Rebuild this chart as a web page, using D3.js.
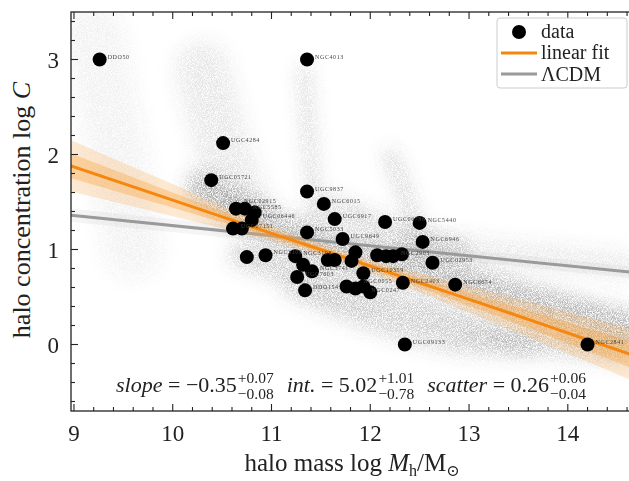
<!DOCTYPE html>
<html>
<head>
<meta charset="utf-8">
<script src="https://cdn.jsdelivr.net/npm/d3@7"></script>
<style>
  body { margin: 0; background: white; }
  text { font-family: "Liberation Serif", "DejaVu Serif", serif; }
</style>
</head>
<body>
<div id="chart"></div>
<script>
// galaxies: name, halo mass log Mh, concentration log C
var names = ['DDO50','NGC4013','UGC4284','UGC05721','UGC9837','NGC6015','UGC6917','NGC5033','UGC9649',
  'NGC02915','NGC5585','UGC06446','','UGC07151','','','NGC3109','NGC3198','','NGC3741','UGC7603','DDO154',
  '','','','','','NGC0055','NGC0247','','UGC10359','UGC06786','NGC5440','NGC6946','','','NGC2903','',
  'UGC02953','NGC2403','NGC6674','UGC09133','NGC2841'];
var logM = [9.26,11.36,10.51,10.39,11.36,11.53,11.64,11.36,11.72,
  10.64,10.73,10.83,10.80,10.61,10.70,10.75,10.94,11.24,11.32,11.41,11.26,11.34,
  11.57,11.64,11.85,11.81,11.76,11.85,11.93,12.00,11.93,12.15,12.50,12.53,12.07,12.16,12.23,12.32,
  12.63,12.33,12.86,12.35,14.20];
var logC = [3.00,3.00,2.12,1.73,1.61,1.48,1.32,1.18,1.11,
  1.43,1.43,1.39,1.31,1.22,1.22,0.92,0.94,0.93,0.84,0.77,0.71,0.57,
  0.89,0.89,0.97,0.88,0.61,0.59,0.61,0.55,0.75,1.29,1.28,1.08,0.94,0.93,0.93,0.95,
  0.86,0.65,0.63,0.00,0.00];

// linear fit and its credible bands
var bandX   = [8.97, 10.0, 11.0, 11.7, 12.5, 13.5, 14.65];
var fitY    = [1.88, 1.52, 1.17, 0.93, 0.65, 0.30, -0.11];
var band1   = [0.13, 0.08, 0.04, 0.03, 0.05, 0.09, 0.14];
var band2   = [0.27, 0.17, 0.08, 0.06, 0.10, 0.18, 0.27];

// LCDM relation
var lcdmX = [8.97, 14.65];
var lcdmY = [1.36, 0.76];
var lcdmW = [0.07, 0.06];

// posterior sample clouds: polyline of [logM, logC], width in px, opacity
var clouds = [
  {pts: [[9.2,3.3],[9.4,2.2],[9.6,1.0]], w: 60, a: 0.08},
  {pts: [[10.3,2.9],[10.5,2.1],[10.7,1.5]], w: 55, a: 0.14},
  {pts: [[11.33,2.9],[11.38,2.2],[11.45,1.3]], w: 10, a: 0.32},
  {pts: [[12.2,2.0],[12.35,1.6],[12.5,1.1]], w: 12, a: 0.32},
  {pts: [[10.3,1.65],[10.9,1.30],[11.6,1.0],[12.5,0.78],[13.5,0.48],[14.6,0.18]], w: 34, a: 0.42},
  {pts: [[10.7,0.95],[11.6,0.62],[12.6,0.32],[13.6,0.06],[14.6,-0.06]], w: 26, a: 0.30},
  {pts: [[11.2,0.60],[12.0,0.25],[12.8,0.02],[13.6,-0.03]], w: 18, a: 0.27},
  {pts: [[12.4,1.05],[13.4,0.95],[14.6,0.82]], w: 28, a: 0.13},
  {pts: [[11.6,1.45],[12.2,1.2],[12.9,1.0]], w: 24, a: 0.24}
];

var xTicks = [9, 10, 11, 12, 13, 14];
var yTicks = [0, 1, 2, 3];

var W = 629, H = 481;
var x = d3.scaleLinear().domain([8.97, 14.65]).range([71, 632]);
var y = d3.scaleLinear().domain([-0.7, 3.5]).range([411, 12]);

var svg = d3.select('#chart').append('svg')
  .attr('width', W).attr('height', H)
  .style('background-color', 'white');

var defs = svg.append('defs');
defs.append('clipPath').attr('id', 'clip')
  .append('rect').attr('x', 71).attr('y', 12).attr('width', 561).attr('height', 399);

// speckled blur for the sample clouds
var f = defs.append('filter').attr('id', 'grain')
  .attr('x', '-50%').attr('y', '-50%').attr('width', '200%').attr('height', '200%');
f.append('feGaussianBlur').attr('in', 'SourceGraphic').attr('stdDeviation', 9).attr('result', 'blur');
f.append('feTurbulence').attr('type', 'fractalNoise').attr('baseFrequency', 1.2)
  .attr('numOctaves', 1).attr('seed', 3).attr('result', 'noise');
f.append('feColorMatrix').attr('in', 'noise').attr('type', 'matrix')
  .attr('values', '0 0 0 0 0  0 0 0 0 0  0 0 0 0 0  3 0 0 0 -0.9').attr('result', 'mask');
f.append('feComposite').attr('in', 'blur').attr('in2', 'mask').attr('operator', 'in');

var plot = svg.append('g').attr('clip-path', 'url(#clip)');

var line = d3.line().x(function(d){ return x(d[0]); }).y(function(d){ return y(d[1]); })
  .curve(d3.curveCatmullRom);

var cloudG = plot.append('g').attr('filter', 'url(#grain)');
clouds.forEach(function(c){
  cloudG.append('path')
    .attr('d', line(c.pts))
    .attr('fill', 'none')
    .attr('stroke', '#444')
    .attr('stroke-width', c.w)
    .attr('stroke-linecap', 'round')
    .attr('opacity', c.a);
});

// LCDM band + line
var lc = lcdmX.map(function(v, i){ return {x: v, y: lcdmY[i], w: lcdmW[i]}; });
plot.append('path')
  .attr('d', d3.area().x(function(d){ return x(d.x); })
    .y0(function(d){ return y(d.y - d.w); }).y1(function(d){ return y(d.y + d.w); })(lc))
  .attr('fill', '#aaa').attr('opacity', 0.12);
plot.append('path')
  .attr('d', d3.line().x(function(d){ return x(d.x); }).y(function(d){ return y(d.y); })(lc))
  .attr('stroke', '#9a9a9a').attr('stroke-width', 3).attr('fill', 'none');

// fit bands + line
var fb = bandX.map(function(v, i){ return {x: v, y: fitY[i], a: band1[i], b: band2[i]}; });
var area = function(key){
  return d3.area().curve(d3.curveMonotoneX).x(function(d){ return x(d.x); })
    .y0(function(d){ return y(d.y - d[key]); }).y1(function(d){ return y(d.y + d[key]); });
};
plot.append('path').attr('d', area('b')(fb)).attr('fill', '#fbb35c').attr('opacity', 0.28);
plot.append('path').attr('d', area('a')(fb)).attr('fill', '#f99a2a').attr('opacity', 0.32);
plot.append('path')
  .attr('d', d3.line().curve(d3.curveMonotoneX).x(function(d){ return x(d.x); }).y(function(d){ return y(d.y); })(fb))
  .attr('stroke', '#f5870f').attr('stroke-width', 3).attr('fill', 'none');

// data points
var gal = names.map(function(n, i){ return {name: n, m: logM[i], c: logC[i]}; });
plot.selectAll('.pt').data(gal).enter().append('circle')
  .attr('class', 'pt')
  .attr('cx', function(d){ return x(d.m); })
  .attr('cy', function(d){ return y(d.c); })
  .attr('r', 7)
  .attr('fill', 'black');

// small nudges so the crowded labels do not sit on top of each other
var nudge = {NGC02915: -5, NGC5585: 1, UGC06446: 7, NGC0055: -4, NGC0247: 6, NGC2403: 1};
plot.selectAll('.lab').data(gal.filter(function(d){ return d.name; })).enter().append('text')
  .attr('class', 'lab')
  .attr('x', function(d){ return x(d.m) + 8; })
  .attr('y', function(d){ return y(d.c) - 1 + (nudge[d.name] || 0); })
  .attr('font-size', 6)
  .attr('letter-spacing', 0.6)
  .attr('fill', '#444')
  .text(function(d){ return d.name; });

// axes frame and ticks (inward)
var frame = svg.append('g');
frame.append('rect').attr('x', 71).attr('y', 12).attr('width', 561).attr('height', 399)
  .attr('fill', 'none').attr('stroke', '#222').attr('stroke-width', 1.3);

var xMinor = d3.range(9, 14.7, 0.2);
var yMinor = d3.range(-0.6, 3.5, 0.2);
xMinor.forEach(function(v){
  var major = Math.abs(v - Math.round(v)) < 1e-6;
  var len = major ? 7 : 4;
  frame.append('line').attr('x1', x(v)).attr('x2', x(v)).attr('y1', 411).attr('y2', 411 - len)
    .attr('stroke', '#222').attr('stroke-width', 1.1);
  frame.append('line').attr('x1', x(v)).attr('x2', x(v)).attr('y1', 12).attr('y2', 12 + len)
    .attr('stroke', '#222').attr('stroke-width', 1.1);
});
yMinor.forEach(function(v){
  var major = Math.abs(v - Math.round(v)) < 1e-6;
  var len = major ? 7 : 4;
  frame.append('line').attr('x1', 71).attr('x2', 71 + len).attr('y1', y(v)).attr('y2', y(v))
    .attr('stroke', '#222').attr('stroke-width', 1.1);
});

svg.selectAll('.xt').data(xTicks).enter().append('text')
  .attr('x', function(d){ return x(d); }).attr('y', 441)
  .attr('text-anchor', 'middle').attr('font-size', 23).attr('fill', '#222')
  .text(function(d){ return d; });
svg.selectAll('.yt').data(yTicks).enter().append('text')
  .attr('x', 59).attr('y', function(d){ return y(d) + 8; })
  .attr('text-anchor', 'end').attr('font-size', 23).attr('fill', '#222')
  .text(function(d){ return d; });

// axis titles
var xl = svg.append('text').attr('x', 352).attr('y', 471).attr('text-anchor', 'middle')
  .attr('font-size', 25).attr('fill', '#222');
xl.append('tspan').text('halo mass log ');
xl.append('tspan').attr('font-style', 'italic').text('M');
xl.append('tspan').attr('font-size', 16).attr('dy', 5).text('h');
xl.append('tspan').attr('dy', -5).text('/M');
xl.append('tspan').attr('font-size', 16).attr('dy', 5).text('⊙');

var yl = svg.append('text').attr('transform', 'translate(30,210) rotate(-90)')
  .attr('text-anchor', 'middle').attr('font-size', 26).attr('fill', '#222');
yl.append('tspan').text('halo concentration log ');
yl.append('tspan').attr('font-style', 'italic').text('C');

// fit summary text
var segs = [
  {t: 'slope', it: true}, {t: ' = −0.35'}, {sup: '+0.07', sub: '−0.08'}, {t: '  '},
  {t: 'int.', it: true}, {t: ' = 5.02'}, {sup: '+1.01', sub: '−0.78'}, {t: '  '},
  {t: 'scatter', it: true}, {t: ' = 0.26'}, {sup: '+0.06', sub: '−0.04'}
];
var sg = svg.append('g');
var cx = 0, base = 392;
segs.forEach(function(s){
  if (s.sup) {
    var a = sg.append('text').attr('x', cx + 1).attr('y', base - 9).attr('font-size', 15.5).text(s.sup);
    var b = sg.append('text').attr('x', cx + 1).attr('y', base + 7).attr('font-size', 15.5).text(s.sub);
    cx += Math.max(a.node().getComputedTextLength(), b.node().getComputedTextLength()) + 3;
  } else {
    var t = sg.append('text').attr('x', cx).attr('y', base).attr('font-size', 22)
      .attr('xml:space', 'preserve').style('white-space', 'pre')
      .attr('font-style', s.it ? 'italic' : null).text(s.t);
    cx += t.node().getComputedTextLength();
  }
});
sg.attr('transform', 'translate(' + (352 - cx / 2) + ',0)').attr('fill', '#222');

// legend
var lg = svg.append('g');
lg.append('rect').attr('x', 497).attr('y', 18).attr('width', 130).attr('height', 70).attr('rx', 3)
  .attr('fill', 'white').attr('fill-opacity', 0.85).attr('stroke', '#ccc');
lg.append('circle').attr('cx', 519).attr('cy', 32).attr('r', 7).attr('fill', 'black');
lg.append('line').attr('x1', 501).attr('x2', 537).attr('y1', 53).attr('y2', 53)
  .attr('stroke', '#f5870f').attr('stroke-width', 3);
lg.append('line').attr('x1', 501).attr('x2', 537).attr('y1', 74).attr('y2', 74)
  .attr('stroke', '#9a9a9a').attr('stroke-width', 3);
[['data', 38], ['linear fit', 59], ['ΛCDM', 81]].forEach(function(e){
  lg.append('text').attr('x', 541).attr('y', e[1]).attr('font-size', 20).attr('fill', '#222').text(e[0]);
});
</script>
</body>
</html>
